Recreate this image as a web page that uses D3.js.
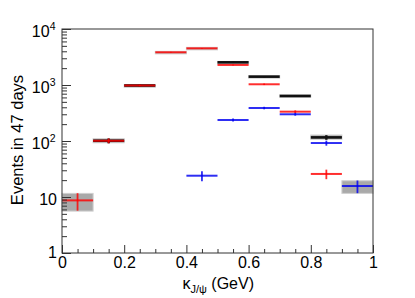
<!DOCTYPE html>
<html><head><meta charset="utf-8">
<script src="https://cdn.jsdelivr.net/npm/d3@7"></script>
<style>body{margin:0;background:#fff}text{font-family:"Liberation Sans",Arial,sans-serif}</style>
</head><body>
<svg id="c" width="415" height="298"></svg>
<script>
// bin edges (GeV)
const binLow  = [0.0,0.1,0.2,0.3,0.4,0.5,0.6,0.7,0.8,0.9];
const binHigh = [0.1,0.2,0.3,0.4,0.5,0.6,0.7,0.8,0.9,1.0];
// red component
const redVal = [8.7, 101, 980, 3840, 4520, 2280, 1030, 334, 25.8, null];
const redErr = [3.0, 10, 31, 62, 67, 48, 32, 18, 5.0, null];
// black total
const blackVal = [null, 101, 980, null, null, 2540, 1410, 636, 116, null];
const blackErr = [null, 10, 31, null, null, 50, 38, 25, 11, null];
// blue component
const blueVal = [null, null, null, null, 24, 237, 388, 300, 92, 15.7];
const blueErr = [null, null, null, null, 4.8, 15, 20, 17, 9.6, 4.0];
// grey systematic boxes of total
const sysLow  = [5.6, 93, 950, 3700, 4350, 2450, 1360, 605, 107, 11.6];
const sysHigh = [11.6, 110, 1010, 3990, 4700, 2640, 1470, 670, 128, 19.5];
// ticks
const xMajor = [0,0.2,0.4,0.6,0.8,1];
const xMajorLabels = ["0","0.2","0.4","0.6","0.8","1"];
const yMajor = [1,10,100,1000,10000];
const yBase = ["1","10","10","10","10"];
const yExp  = ["","","2","3","4"];

const svg = d3.select("#c");
const L=62,R=373,T=29,B=253;
const x = d3.scaleLinear().domain([0,1]).range([L,R]);
const y = d3.scaleLog().domain([1,1e4]).range([B,T]);

const idx = d3.range(binLow.length);

// grey boxes
svg.append("g").selectAll("rect").data(idx).join("rect")
  .attr("x", i=>x(binLow[i])).attr("width", i=>x(binHigh[i])-x(binLow[i]))
  .attr("y", i=>y(sysHigh[i])).attr("height", i=>Math.max(2.5, y(sysLow[i])-y(sysHigh[i])))
  .attr("fill","#a9a9a9").attr("stroke","#cfcfcf").attr("stroke-width",1);

function series(vals, errs, color, width, opacity){
  const g = svg.append("g").attr("stroke",color).attr("stroke-width",width).attr("stroke-opacity",opacity);
  const ii = idx.filter(i=>vals[i]!==null);
  g.selectAll("line.h").data(ii).join("line").attr("class","h")
    .attr("x1", i=>x(binLow[i])).attr("x2", i=>x(binHigh[i]))
    .attr("y1", i=>y(vals[i])).attr("y2", i=>y(vals[i]));
  g.selectAll("line.v").data(ii).join("line").attr("class","v")
    .attr("x1", i=>x((binLow[i]+binHigh[i])/2)).attr("x2", i=>x((binLow[i]+binHigh[i])/2))
    .attr("y1", i=>y(vals[i]+errs[i])).attr("y2", i=>y(Math.max(vals[i]-errs[i],1)))
    .attr("stroke-width", width*0.9);
}
series(blackVal, blackErr, "#111", 2.6, 1);
series(redVal, redErr, "#ff0000", 2, 0.82);
series(blueVal, blueErr, "#0000f0", 2, 0.82);

// axes
const axColor="#333";
const xAx = svg.append("g").attr("transform",`translate(0,${B})`)
  .call(d3.axisBottom(x).tickValues(xMajor).tickSize(-8).tickPadding(4).tickFormat((d,i)=>xMajorLabels[i]));
const xMin = svg.append("g").attr("transform",`translate(0,${B})`)
  .call(d3.axisBottom(x).tickValues(d3.range(0,21).map(k=>k*0.05).filter(v=>Math.abs(v*5-Math.round(v*5))>1e-6)).tickSize(-4).tickFormat(""));
const minorY = [];
for (let dec=1; dec<1e4; dec*=10) for (let k=2;k<=9;k++) minorY.push(dec*k);
const yAx = svg.append("g").attr("transform",`translate(${L},0)`)
  .call(d3.axisLeft(y).tickValues(yMajor).tickSize(-9).tickFormat(""));
const yMin = svg.append("g").attr("transform",`translate(${L},0)`)
  .call(d3.axisLeft(y).tickValues(minorY).tickSize(-5).tickFormat(""));
[xAx,xMin,yAx,yMin].forEach(g=>{g.select(".domain").remove(); g.selectAll("line").attr("stroke",axColor);});
xAx.selectAll("text").attr("font-size",16).attr("fill","#000").attr("font-family","Liberation Sans, Arial, sans-serif");

// frame
svg.append("rect").attr("x",L).attr("y",T).attr("width",R-L).attr("height",B-T)
  .attr("fill","none").attr("stroke",axColor).attr("stroke-width",1);

// y labels
const yl = svg.append("g").selectAll("text").data(d3.range(yMajor.length)).join("text")
  .attr("x",57).attr("y",i=>y(yMajor[i])+(i===0?5:8)).attr("text-anchor","end").attr("font-size",16);
yl.each(function(i){
  const t=d3.select(this);
  if(yExp[i]){
    t.attr("x",55.5);
    t.append("tspan").text(yBase[i]);
    t.append("tspan").attr("dy",-7).attr("font-size",10.5).text(yExp[i]);
  } else t.text(yBase[i]);
});

// axis titles
const xt = svg.append("text").attr("x",254).attr("y",289).attr("text-anchor","end").attr("font-size",16);
xt.append("tspan").text("κ");
xt.append("tspan").attr("dy",4).attr("font-size",11).text("J/ψ");
xt.append("tspan").attr("dy",-4).text(" (GeV)");
svg.append("text").attr("transform","translate(22.5,140) rotate(-90)").attr("text-anchor","middle")
  .attr("font-size",16.5).text("Events in 47 days");
</script>
</body></html>
